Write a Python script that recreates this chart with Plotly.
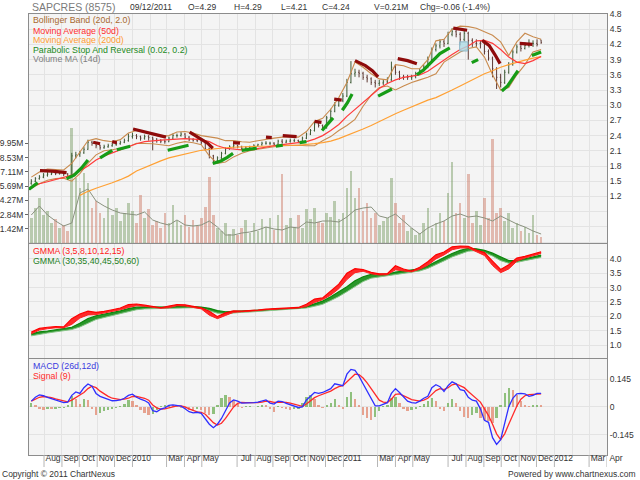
import pandas as pd
import plotly.graph_objects as go

# weekly bars (Fridays) 10 Jul 2009 .. 9 Dec 2011, fortnightly points for smooth indicators
week = pd.date_range("2009-07-10", periods=127, freq="7D")
fortnight = pd.date_range("2009-07-10", periods=64, freq="14D")

opens = [1.46, 1.50, 1.55, 1.58, 1.62, 1.64, 1.66, 1.65, 1.66, 1.64,
         1.60, 2.00, 2.02, 2.06, 2.13, 2.27, 2.25, 2.20, 2.16, 2.18,
         2.20, 2.22, 2.24, 2.27, 2.30, 2.38, 2.40, 2.38, 2.35, 2.38,
         2.36, 2.33, 2.30, 2.29, 2.28, 2.35, 2.40, 2.40, 2.43, 2.37,
         2.32, 2.31, 2.30, 2.26, 2.15, 2.00, 1.90, 1.96, 2.05, 2.14,
         2.18, 2.20, 2.18, 2.15, 2.17, 2.18, 2.20, 2.22, 2.25, 2.25,
         2.25, 2.23, 2.29, 2.27, 2.29, 2.30, 2.30, 2.28, 2.35, 2.43,
         2.50, 2.63, 2.60, 2.55, 2.75, 2.88, 3.00, 3.10, 3.18, 3.45,
         3.62, 3.65, 3.63, 3.55, 3.52, 3.45, 3.43, 3.44, 3.46, 3.50,
         3.75, 3.65, 3.56, 3.55, 3.55, 3.56, 3.62, 3.68, 3.75, 3.90,
         4.10, 4.17, 4.25, 4.22, 4.40, 4.45, 4.40, 4.30, 4.42, 4.28,
         4.22, 4.22, 4.22, 4.06, 3.93, 3.72, 3.55, 3.45, 3.65, 3.80,
         4.05, 4.15, 4.12, 4.18, 4.22, 4.22, 4.29]
highs = [1.54, 1.58, 1.62, 1.66, 1.68, 1.70, 1.69, 1.70, 1.68, 1.66,
         2.06, 2.08, 2.10, 2.18, 2.32, 2.30, 2.27, 2.22, 2.22, 2.24,
         2.26, 2.27, 2.30, 2.34, 2.44, 2.46, 2.43, 2.40, 2.42, 2.41,
         2.38, 2.35, 2.33, 2.32, 2.38, 2.44, 2.44, 2.47, 2.45, 2.39,
         2.35, 2.34, 2.32, 2.27, 2.16, 2.02, 1.99, 2.08, 2.17, 2.21,
         2.24, 2.22, 2.20, 2.19, 2.20, 2.23, 2.24, 2.28, 2.29, 2.28,
         2.27, 2.32, 2.33, 2.32, 2.34, 2.34, 2.32, 2.38, 2.46, 2.53,
         2.68, 2.67, 2.62, 2.79, 2.93, 3.06, 3.14, 3.24, 3.52, 3.87,
         3.72, 3.70, 3.66, 3.60, 3.55, 3.50, 3.50, 3.50, 3.55, 3.86,
         3.80, 3.68, 3.60, 3.60, 3.60, 3.66, 3.72, 3.80, 3.96, 4.14,
         4.22, 4.30, 4.30, 4.45, 4.52, 4.50, 4.44, 4.48, 4.45, 4.32,
         4.30, 4.28, 4.24, 4.10, 3.96, 3.75, 3.62, 3.70, 3.85, 4.10,
         4.20, 4.20, 4.24, 4.30, 4.28, 4.30, 4.29]
lows = [1.43, 1.48, 1.53, 1.56, 1.59, 1.62, 1.62, 1.63, 1.60, 1.55,
        1.58, 1.95, 1.98, 2.04, 2.12, 2.20, 2.15, 2.12, 2.14, 2.16,
        2.18, 2.20, 2.22, 2.25, 2.28, 2.34, 2.33, 2.30, 2.32, 2.30,
        2.11, 2.26, 2.25, 2.24, 2.27, 2.33, 2.36, 2.38, 2.34, 2.29,
        2.28, 2.27, 2.22, 2.10, 1.95, 1.84, 1.88, 1.94, 2.03, 2.12,
        2.15, 2.15, 2.12, 2.13, 2.14, 2.16, 2.18, 2.20, 2.22, 2.21,
        2.19, 2.21, 2.24, 2.25, 2.26, 2.27, 2.25, 2.27, 2.33, 2.41,
        2.48, 2.56, 2.51, 2.54, 2.73, 2.86, 2.97, 3.06, 3.16, 3.43,
        3.56, 3.55, 3.50, 3.45, 3.40, 3.35, 3.38, 3.40, 3.42, 3.48,
        3.60, 3.50, 3.50, 3.50, 3.50, 3.53, 3.60, 3.66, 3.73, 3.88,
        4.06, 4.12, 4.15, 4.20, 4.36, 4.34, 4.18, 4.26, 3.90, 4.15,
        4.15, 4.12, 4.00, 3.88, 3.55, 3.32, 3.35, 3.42, 3.62, 3.78,
        4.02, 4.06, 4.10, 4.14, 4.15, 4.16, 4.21]
closes = [1.50, 1.55, 1.58, 1.62, 1.64, 1.66, 1.65, 1.66, 1.64, 1.58,
          2.00, 2.02, 2.06, 2.13, 2.27, 2.25, 2.20, 2.16, 2.18, 2.20,
          2.22, 2.24, 2.27, 2.30, 2.38, 2.40, 2.38, 2.35, 2.38, 2.36,
          2.33, 2.30, 2.29, 2.28, 2.35, 2.40, 2.40, 2.43, 2.37, 2.32,
          2.31, 2.30, 2.26, 2.15, 2.00, 1.90, 1.96, 2.05, 2.14, 2.18,
          2.20, 2.18, 2.15, 2.17, 2.18, 2.20, 2.22, 2.25, 2.25, 2.25,
          2.23, 2.29, 2.27, 2.29, 2.30, 2.30, 2.28, 2.35, 2.43, 2.50,
          2.63, 2.60, 2.55, 2.75, 2.88, 3.00, 3.10, 3.18, 3.45, 3.62,
          3.65, 3.63, 3.55, 3.52, 3.45, 3.43, 3.44, 3.46, 3.50, 3.75,
          3.65, 3.56, 3.55, 3.55, 3.56, 3.62, 3.68, 3.75, 3.90, 4.10,
          4.17, 4.25, 4.22, 4.40, 4.45, 4.40, 4.30, 4.42, 4.28, 4.22,
          4.22, 4.22, 4.06, 3.93, 3.72, 3.55, 3.45, 3.65, 3.80, 4.05,
          4.15, 4.12, 4.18, 4.22, 4.22, 4.20, 4.24]

# volume in millions of shares
volume_m = [2.5, 3.5, 4.5, 2.8, 3.2, 2.0, 2.4, 1.5, 1.8, 1.2,
            11.5, 6.5, 5.5, 7.0, 6.0, 3.5, 4.2, 3.0, 2.5, 4.5,
            2.8, 3.5, 2.2, 3.0, 4.0, 3.2, 2.0, 4.8, 2.5, 3.4,
            1.8, 2.2, 1.5, 3.0, 2.0, 3.8, 2.2, 1.8, 2.8, 1.6,
            2.3, 1.7, 2.5, 3.6, 6.6, 2.8, 1.5, 1.2, 2.0, 0.9,
            1.4, 0.8, 1.5, 2.3, 1.0, 2.0, 1.2, 2.4, 1.6, 2.5,
            1.3, 2.8, 6.9, 1.8, 2.5, 1.6, 2.8, 1.5, 3.4, 2.4,
            3.5, 2.1, 2.0, 3.0, 2.6, 4.2, 2.4, 3.0, 5.5, 7.2,
            4.5, 5.5, 3.2, 4.0, 2.5, 3.0, 1.8, 2.2, 2.5, 6.5,
            4.0, 2.0, 2.8, 1.2, 1.5, 0.8, 1.0, 2.0, 3.5, 1.5,
            2.0, 3.0, 2.2, 5.0, 8.1, 3.0, 4.0, 2.5, 6.9, 2.0,
            3.2, 1.8, 4.5, 2.5, 10.4, 3.0, 3.5, 2.2, 3.0, 1.5,
            2.0, 1.2, 1.6, 1.0, 2.8, 0.8, 0.6]
volume_ma = [2.8, 3.7, 2.8, 2.2, 1.7, 2.0, 5.0, 5.4, 4.2, 3.7,
             3.3, 3.0, 2.9, 2.8, 3.1, 2.3, 2.0, 1.8, 2.3, 1.8,
             1.7, 1.8, 2.2, 1.6, 0.8, 0.8, 1.0, 1.1, 1.3, 1.6,
             1.4, 1.3, 1.6, 1.5, 2.1, 2.0, 2.2, 2.2, 2.1, 2.6,
             3.3, 3.5, 3.6, 2.7, 2.5, 2.9, 2.2, 1.5, 0.9, 1.5,
             1.9, 2.2, 2.7, 2.9, 2.6, 2.7, 2.5, 2.2, 2.7, 2.3,
             1.9, 1.6, 1.2, 0.9]

bb_upper = [1.58, 1.68, 1.74, 1.73, 1.72, 1.85, 2.08, 2.30, 2.34, 2.30,
            2.28, 2.32, 2.45, 2.50, 2.46, 2.42, 2.38, 2.40, 2.47, 2.48,
            2.45, 2.40, 2.38, 2.35, 2.30, 2.30, 2.28, 2.27, 2.30, 2.33,
            2.35, 2.37, 2.38, 2.37, 2.48, 2.68, 2.74, 2.92, 3.15, 3.45,
            3.85, 3.75, 3.62, 3.52, 3.50, 3.80, 3.78, 3.72, 3.72, 3.90,
            4.27, 4.30, 4.50, 4.56, 4.55, 4.52, 4.45, 4.38, 4.25, 3.98,
            4.25, 4.42, 4.35, 4.30]
bb_lower = [1.36, 1.45, 1.52, 1.55, 1.56, 1.50, 1.65, 1.85, 2.02, 2.10,
            2.12, 2.15, 2.18, 2.25, 2.25, 2.24, 2.22, 2.20, 2.25, 2.28,
            2.26, 2.22, 2.00, 1.85, 1.88, 1.98, 2.05, 2.10, 2.13, 2.16,
            2.18, 2.20, 2.21, 2.21, 2.20, 2.20, 2.30, 2.38, 2.50, 2.60,
            2.72, 2.98, 3.20, 3.35, 3.38, 3.30, 3.38, 3.45, 3.50, 3.55,
            3.62, 3.85, 3.95, 4.05, 4.12, 4.15, 3.95, 3.60, 3.30, 3.35,
            3.60, 3.80, 4.05, 4.10]
ma50 = [1.39, 1.45, 1.49, 1.53, 1.57, 1.62, 1.70, 1.80, 1.92, 2.00,
        2.06, 2.12, 2.18, 2.24, 2.28, 2.30, 2.31, 2.32, 2.33, 2.34,
        2.33, 2.32, 2.28, 2.20, 2.15, 2.13, 2.12, 2.12, 2.15, 2.18,
        2.20, 2.22, 2.24, 2.26, 2.28, 2.33, 2.40, 2.50, 2.62, 2.78,
        2.92, 3.05, 3.20, 3.33, 3.43, 3.50, 3.55, 3.57, 3.60, 3.67,
        3.78, 3.90, 4.00, 4.10, 4.17, 4.27, 4.28, 4.22, 4.10, 3.95,
        3.85, 3.82, 3.88, 3.96]
ma200 = [None, None, None, None, None, None, 1.22, 1.30, 1.36, 1.41,
         1.47, 1.53, 1.60, 1.70, 1.77, 1.83, 1.90, 1.96, 2.00, 2.04,
         2.08, 2.11, 2.13, 2.15, 2.16, 2.17, 2.18, 2.18, 2.19, 2.19,
         2.20, 2.20, 2.21, 2.21, 2.22, 2.24, 2.26, 2.29, 2.34, 2.40,
         2.46, 2.53, 2.60, 2.68, 2.76, 2.83, 2.90, 2.97, 3.03, 3.10,
         3.15, 3.22, 3.30, 3.38, 3.46, 3.54, 3.62, 3.68, 3.75, 3.80,
         3.85, 3.89, 3.93, 3.96]

# parabolic SAR runs, None separates the runs
sar_long_dates = ["2009-07-06", "2009-07-21", None,
                  "2009-09-09", "2009-09-22", "2009-10-05", "2009-10-16", None,
                  "2009-11-06", "2009-11-17", "2009-11-27", None,
                  "2009-12-05", "2009-12-17", "2009-12-28", None,
                  "2010-03-03", "2010-03-15", "2010-03-28", "2010-04-08", None,
                  "2010-05-20", "2010-06-03", "2010-06-14", "2010-06-24", None,
                  "2010-07-09", "2010-07-22", "2010-08-04", None,
                  "2010-09-06", "2010-09-18", None,
                  "2010-10-17", "2010-10-29", None,
                  "2010-11-25", "2010-12-05", "2010-12-14", None,
                  "2010-12-30", "2011-01-08", "2011-01-16", None,
                  "2011-03-02", "2011-03-14", "2011-03-26", None,
                  "2011-05-08", "2011-05-20", "2011-06-03", "2011-06-17", "2011-07-04", None,
                  "2011-08-11", "2011-08-22", None,
                  "2011-10-02", "2011-10-12", "2011-10-22", "2011-10-30", None,
                  "2011-11-23", "2011-12-09"]
sar_long_vals = [1.34, 1.47, None,
                 1.55, 1.62, 1.76, 1.92, None,
                 1.96, 2.04, 2.11, None,
                 2.12, 2.15, 2.19, None,
                 2.11, 2.14, 2.18, 2.21, None,
                 1.85, 1.90, 1.97, 2.05, None,
                 2.11, 2.13, 2.15, None,
                 2.19, 2.21, None,
                 2.26, 2.28, None,
                 2.50, 2.62, 2.75, None,
                 2.90, 3.05, 3.22, None,
                 3.18, 3.25, 3.32, None,
                 3.60, 3.70, 3.86, 4.02, 4.13, None,
                 3.84, 3.90, None,
                 3.28, 3.38, 3.55, 3.68, None,
                 3.98, 4.05]
sar_short_dates = ["2009-07-25", "2009-08-15", "2009-09-09", None,
                   "2009-10-25", "2009-11-06", None,
                   "2009-11-27", "2009-12-05", None,
                   "2010-01-02", "2010-01-22", "2010-02-12", "2010-02-28", None,
                   "2010-04-10", "2010-04-25", "2010-05-11", "2010-05-20", None,
                   "2010-06-24", "2010-07-06", None,
                   "2010-08-20", "2010-08-30", None,
                   "2010-09-18", "2010-10-12", None,
                   "2010-11-12", "2010-11-24", None,
                   "2010-12-16", "2010-12-29", None,
                   "2011-01-21", "2011-02-08", "2011-02-20", "2011-03-02", None,
                   "2011-04-05", "2011-04-22", "2011-05-08", None,
                   "2011-07-10", "2011-07-22", "2011-08-03", None,
                   "2011-08-29", "2011-09-10", "2011-09-20", "2011-09-29", None,
                   "2011-11-02", "2011-11-24"]
sar_short_vals = [1.71, 1.70, 1.67, None,
                  2.27, 2.24, None,
                  2.28, 2.26, None,
                  2.53, 2.47, 2.42, 2.37, None,
                  2.47, 2.37, 2.25, 2.15, None,
                  2.26, 2.25, None,
                  2.37, 2.36, None,
                  2.40, 2.38, None,
                  2.68, 2.66, None,
                  3.12, 3.10, None,
                  3.88, 3.78, 3.68, 3.56, None,
                  3.92, 3.88, 3.82, None,
                  4.52, 4.50, 4.48, None,
                  4.28, 4.18, 4.00, 3.82, None,
                  4.22, 4.20]

# GMMA: edges of the short (3..15) and long (30..60) bundles
gmma_short_hi = [1.45, 1.58, 1.62, 1.64, 1.63, 1.92, 2.08, 2.18, 2.14, 2.17,
                 2.23, 2.29, 2.41, 2.43, 2.39, 2.35, 2.30, 2.36, 2.41, 2.40,
                 2.34, 2.30, 2.18, 1.99, 2.12, 2.19, 2.18, 2.19, 2.22, 2.25,
                 2.26, 2.28, 2.30, 2.31, 2.42, 2.60, 2.64, 2.88, 3.12, 3.50,
                 3.66, 3.63, 3.53, 3.48, 3.49, 3.76, 3.65, 3.58, 3.71, 3.90,
                 4.14, 4.24, 4.42, 4.45, 4.44, 4.31, 4.22, 3.92, 3.63, 3.80,
                 4.03, 4.09, 4.18, 4.25]
gmma_short_lo = [1.39, 1.52, 1.57, 1.60, 1.60, 1.72, 1.94, 2.05, 2.06, 2.11,
                 2.17, 2.23, 2.31, 2.37, 2.35, 2.31, 2.28, 2.30, 2.37, 2.36,
                 2.31, 2.26, 2.04, 1.92, 2.03, 2.14, 2.16, 2.17, 2.20, 2.23,
                 2.24, 2.26, 2.28, 2.29, 2.34, 2.48, 2.58, 2.74, 2.96, 3.28,
                 3.52, 3.57, 3.48, 3.44, 3.45, 3.62, 3.58, 3.55, 3.64, 3.78,
                 4.00, 4.14, 4.32, 4.38, 4.38, 4.25, 4.12, 3.77, 3.52, 3.65,
                 3.92, 4.03, 4.12, 4.19]
gmma_long_hi = [1.39, 1.46, 1.49, 1.53, 1.56, 1.62, 1.76, 1.92, 2.02, 2.07,
                2.13, 2.19, 2.27, 2.32, 2.33, 2.32, 2.32, 2.32, 2.34, 2.35,
                2.34, 2.32, 2.28, 2.20, 2.16, 2.17, 2.18, 2.19, 2.21, 2.23,
                2.25, 2.27, 2.28, 2.29, 2.34, 2.44, 2.53, 2.68, 2.84, 3.03,
                3.24, 3.38, 3.46, 3.46, 3.47, 3.54, 3.58, 3.61, 3.65, 3.76,
                3.90, 4.05, 4.19, 4.30, 4.37, 4.35, 4.30, 4.20, 4.06, 3.94,
                3.94, 4.01, 4.07, 4.13]
gmma_long_lo = [1.32, 1.38, 1.42, 1.46, 1.50, 1.54, 1.63, 1.77, 1.89, 1.96,
                2.03, 2.09, 2.16, 2.23, 2.26, 2.27, 2.28, 2.28, 2.30, 2.31,
                2.30, 2.28, 2.20, 2.11, 2.09, 2.12, 2.14, 2.15, 2.17, 2.19,
                2.21, 2.23, 2.24, 2.25, 2.29, 2.35, 2.42, 2.55, 2.69, 2.86,
                3.05, 3.21, 3.33, 3.37, 3.40, 3.45, 3.49, 3.54, 3.58, 3.67,
                3.79, 3.93, 4.07, 4.18, 4.27, 4.29, 4.22, 4.10, 3.94, 3.85,
                3.88, 3.94, 3.99, 4.05]

macd = [0.030, 0.050, 0.062, 0.058, 0.050, 0.042, 0.034, 0.026, 0.022, 0.025,
        0.060, 0.078, 0.070, 0.100, 0.119, 0.108, 0.070, 0.055, 0.048, 0.040,
        0.032, 0.033, 0.036, 0.045, 0.060, 0.066, 0.050, 0.040, 0.033, 0.020,
        -0.020, -0.025, -0.012, -0.005, 0.008, 0.010, 0.006, 0.004, -0.010, -0.025,
        -0.031, -0.028, -0.033, -0.060, -0.090, -0.108, -0.090, -0.060, -0.020, 0.020,
        0.036, 0.030, 0.020, 0.020, 0.021, 0.022, 0.025, 0.030, 0.036, 0.020,
        0.015, 0.030, 0.028, 0.018, 0.012, 0.005, -0.003, 0.000, 0.036, 0.055,
        0.075, 0.070, 0.075, 0.085, 0.095, 0.120, 0.115, 0.110, 0.170, 0.195,
        0.190, 0.160, 0.120, 0.080, 0.045, 0.005, 0.005, 0.015, 0.022, 0.070,
        0.095, 0.075, 0.050, 0.030, 0.022, 0.020, 0.030, 0.045, 0.055, 0.100,
        0.115, 0.105, 0.080, 0.110, 0.130, 0.120, 0.090, 0.085, 0.050, 0.035,
        0.030, -0.010, -0.070, -0.080, -0.160, -0.195, -0.170, -0.080, 0.000, 0.045,
        0.068, 0.070, 0.068, 0.055, 0.060, 0.070, 0.070]
signal = [0.030, 0.040, 0.050, 0.054, 0.052, 0.048, 0.042, 0.036, 0.030, 0.026,
          0.035, 0.050, 0.062, 0.075, 0.095, 0.108, 0.100, 0.082, 0.068, 0.055,
          0.045, 0.040, 0.038, 0.040, 0.045, 0.054, 0.055, 0.050, 0.045, 0.035,
          0.010, -0.005, -0.012, -0.010, -0.004, 0.002, 0.005, 0.005, 0.000, -0.010,
          -0.020, -0.026, -0.028, -0.038, -0.060, -0.082, -0.094, -0.085, -0.060, -0.030,
          0.000, 0.018, 0.024, 0.022, 0.021, 0.021, 0.022, 0.025, 0.030, 0.028,
          0.024, 0.025, 0.026, 0.024, 0.020, 0.014, 0.008, 0.003, 0.015, 0.030,
          0.048, 0.058, 0.065, 0.072, 0.082, 0.095, 0.105, 0.110, 0.130, 0.155,
          0.170, 0.168, 0.150, 0.125, 0.095, 0.060, 0.035, 0.025, 0.023, 0.040,
          0.065, 0.068, 0.060, 0.048, 0.038, 0.032, 0.030, 0.035, 0.045, 0.065,
          0.085, 0.095, 0.090, 0.100, 0.115, 0.120, 0.110, 0.100, 0.080, 0.060,
          0.045, 0.025, -0.010, -0.045, -0.090, -0.140, -0.170, -0.140, -0.090, -0.040,
          0.005, 0.040, 0.058, 0.064, 0.065, 0.067, 0.068]
macd_hist = [0.020, 0.010, -0.012, -0.015, -0.010, -0.012, -0.010, -0.008, -0.006, 0.010,
             0.055, 0.040, 0.015, 0.040, 0.035, -0.010, -0.040, -0.030, -0.020, -0.015,
             -0.010, -0.005, 0.005, 0.015, 0.035, 0.030, 0.010, -0.015, -0.030, -0.040,
             -0.035, -0.015, 0.005, 0.008, 0.012, 0.010, 0.005, -0.005, -0.012, -0.018,
             -0.020, -0.010, -0.015, -0.030, -0.040, -0.035, 0.010, 0.045, 0.060, 0.050,
             0.035, 0.015, -0.005, 0.003, 0.005, 0.002, 0.006, 0.010, 0.008, -0.012,
             -0.025, 0.005, -0.005, -0.012, -0.015, -0.012, -0.010, 0.020, 0.050, 0.060,
             0.040, 0.010, -0.005, 0.010, 0.020, 0.040, 0.010, -0.012, 0.050, 0.080,
             0.040, 0.010, -0.040, -0.060, -0.070, -0.050, -0.020, 0.005, 0.010, 0.045,
             0.050, 0.020, -0.010, -0.020, -0.015, -0.010, 0.005, 0.015, 0.030, 0.045,
             0.030, -0.010, -0.020, 0.020, 0.040, 0.020, -0.020, -0.050, -0.060, -0.040,
             -0.030, -0.060, -0.070, -0.075, -0.085, -0.060, 0.010, 0.070, 0.100, 0.090,
             0.060, 0.030, 0.012, 0.005, 0.010, 0.012, 0.010]

month_ticks = ["2009-08-01", "2009-09-01", "2009-10-01", "2009-11-01", "2009-12-01",
               "2010-01-01", "2010-03-01", "2010-04-01", "2010-05-01", "2010-07-01",
               "2010-08-01", "2010-09-01", "2010-10-01", "2010-11-01", "2010-12-01",
               "2011-01-01", "2011-03-01", "2011-04-01", "2011-05-01", "2011-07-01",
               "2011-08-01", "2011-09-01", "2011-10-01", "2011-11-01", "2011-12-01",
               "2012-01-01", "2012-03-01", "2012-04-01"]
month_text = ["Aug", "Sep", "Oct", "Nov", "Dec", "2010", "Mar", "Apr", "May", "Jul",
              "Aug", "Sep", "Oct", "Nov", "Dec", "2011", "Mar", "Apr", "May", "Jul",
              "Aug", "Sep", "Oct", "Nov", "Dec", "2012", "Mar", "Apr"]
price_ticks = [0.3, 0.6, 0.9, 1.2, 1.5, 1.8, 2.1, 2.4, 2.7, 3.0, 3.3, 3.6, 3.9, 4.2, 4.5, 4.8]
price_text = ["", "", "", "1.2", "1.5", "1.8", "2.1", "2.4", "2.7", "3.0", "3.3",
              "3.6", "3.9", "4.2", "4.5", "4.8"]
vol_ticks = [1.42, 2.84, 4.27, 5.69, 7.11, 8.53, 9.95]
gmma_ticks = [1.0, 1.5, 2.0, 2.5, 3.0, 3.5, 4.0]
macd_ticks = [-0.145, 0, 0.145]

FONT = "Liberation Sans, Arial, sans-serif"
GRID = "#e3e3e3"
FRAME = "#8c8c8c"
DAY = 86400000


def at(px, py):
    # pixel position in the 640x480 picture -> paper coordinates
    return (px - 29) / 578, (455 - py) / 441


fig = go.Figure()

# volume under the price panel (base axis, left scale)
vol_colors = ["rgba(125,160,105,0.5)" if c >= o else "rgba(205,125,105,0.5)"
              for o, c in zip(opens, closes)]
fig.add_bar(x=week, y=volume_m, width=4.5 * DAY, marker=dict(color=vol_colors, line_width=0),
            xaxis="x", yaxis="y")
fig.add_scatter(x=fortnight, y=volume_ma, mode="lines", line=dict(color="#8a927f", width=1),
                xaxis="x", yaxis="y")

# price panel (overlaid, right scale)
for band in (bb_upper, bb_lower):
    fig.add_scatter(x=fortnight, y=band, mode="lines", line=dict(color="#c98b4e", width=1.1),
                    xaxis="x", yaxis="y2")
fig.add_scatter(x=fortnight, y=ma200, mode="lines", line=dict(color="#ffa033", width=1.2),
                xaxis="x", yaxis="y2")
fig.add_scatter(x=fortnight, y=ma50, mode="lines", line=dict(color="#ff3b3b", width=1.2),
                xaxis="x", yaxis="y2")
fig.add_scatter(x=sar_long_dates, y=sar_long_vals, mode="lines", connectgaps=False,
                line=dict(color="#169c16", width=3.2), xaxis="x", yaxis="y2")
fig.add_scatter(x=sar_short_dates, y=sar_short_vals, mode="lines", connectgaps=False,
                line=dict(color="#8e0b0b", width=3.2), xaxis="x", yaxis="y2")
fig.add_trace(go.Ohlc(x=week, open=opens, high=highs, low=lows, close=closes,
                      increasing_line_color="#3e5a36", decreasing_line_color="#5e3a34",
                      line_width=1, tickwidth=0.2, xaxis="x", yaxis="y2"))

# GMMA panel
fig.add_scatter(x=fortnight, y=gmma_long_lo, mode="lines", line=dict(color="#86c486", width=1),
                xaxis="x2", yaxis="y3")
fig.add_scatter(x=fortnight, y=gmma_long_hi, mode="lines", line=dict(color="#0a850a", width=1.2),
                fill="tonexty", fillcolor="rgba(20,140,20,0.9)", xaxis="x2", yaxis="y3")
fig.add_scatter(x=fortnight, y=gmma_short_lo, mode="lines", line=dict(color="#ff2020", width=1),
                xaxis="x2", yaxis="y3")
fig.add_scatter(x=fortnight, y=gmma_short_hi, mode="lines", line=dict(color="#ff0000", width=1.2),
                fill="tonexty", fillcolor="rgba(255,20,20,0.9)", xaxis="x2", yaxis="y3")

# MACD panel
hist_colors = ["rgba(110,175,85,0.75)" if i == 0 or v >= macd_hist[i - 1] else "rgba(225,135,110,0.75)"
               for i, v in enumerate(macd_hist)]
fig.add_bar(x=week, y=macd_hist, width=4 * DAY, marker=dict(color=hist_colors, line_width=0),
            xaxis="x3", yaxis="y4")
fig.add_scatter(x=week, y=signal, mode="lines", line=dict(color="#ff2a2a", width=1.3),
                xaxis="x3", yaxis="y4")
fig.add_scatter(x=week, y=macd, mode="lines", line=dict(color="#2f2fff", width=1.3),
                xaxis="x3", yaxis="y4")

xcommon = dict(range=["2009-07-06", "2012-04-01"], tickvals=month_ticks, showgrid=True,
               gridcolor=GRID, gridwidth=1, zeroline=False, showline=True, mirror=True,
               linecolor=FRAME, linewidth=1, automargin=False,
               minor=dict(dtick="M1", tick0="2009-08-01", showgrid=True, gridcolor=GRID, ticks=""))
ycommon = dict(showgrid=True, gridcolor=GRID, zeroline=False, showline=True, mirror=True,
               linecolor=FRAME, linewidth=1, side="right", ticks="", automargin=False,
               tickfont=dict(size=8.5, color="#333333", family=FONT))

fig.update_layout(
    width=640, height=480,
    margin=dict(l=29, r=33, t=14, b=25, autoexpand=False),
    paper_bgcolor="white", plot_bgcolor="#f4f4f4",
    showlegend=False, bargap=0, barmode="overlay",
    font=dict(family=FONT, size=8.5, color="#333333"),
    xaxis=dict(xcommon, anchor="y", showticklabels=False, ticks="",
               rangeslider=dict(visible=False)),
    yaxis=dict(domain=[0.4807, 1], range=[0, 22.9], side="left", showgrid=False,
               zeroline=False, showline=True, linecolor=FRAME, mirror=True, automargin=False,
               tickvals=vol_ticks, ticktext=[f"{v:.2f}M" for v in vol_ticks],
               ticks="outside", ticklen=3, tickcolor="#666666",
               tickfont=dict(size=8.5, color="#333333", family=FONT)),
    yaxis2=dict(ycommon, overlaying="y", range=[0.28, 4.8],
                tickvals=price_ticks, ticktext=price_text),
    xaxis2=dict(xcommon, anchor="y3", matches="x", showticklabels=False, ticks=""),
    yaxis3=dict(ycommon, domain=[0.2200, 0.4785], range=[0.55, 4.52],
                tickvals=gmma_ticks, ticktext=[f"{v:.1f}" for v in gmma_ticks]),
    xaxis3=dict(xcommon, anchor="y4", matches="x", ticktext=month_text, ticks="",
                tickangle=0, ticklabelshift=9, ticklabelstandoff=-5,
                tickfont=dict(size=8.5, color="#333333", family=FONT)),
    yaxis4=dict(ycommon, domain=[0, 0.2177], range=[-0.25, 0.249],
                tickvals=macd_ticks, ticktext=["-0.145", "0", "0.145"]),
)

# separators between the month labels under the chart
for d in month_ticks:
    fig.add_shape(type="line", xref="x3", yref="paper", x0=d, x1=d, y0=0, y1=-12 / 441,
                  line=dict(color="#b5b5b5", width=1))

# marker box on the price panel
fig.add_shape(type="rect", xref="x", yref="y2", x0="2011-07-21", x1="2011-08-04",
              y0=4.07, y1=4.25, line=dict(color="#8fb8c8", width=1),
              fillcolor="rgba(175,220,230,0.8)")

texts = [
    (30, 7, "SAPCRES (8575)", "#7a7a7a", 10.5),
    (128, 7, "09/12/2011", "#333333", 8.5),
    (186, 7, "O=4.29", "#333333", 8.5),
    (232, 7, "H=4.29", "#333333", 8.5),
    (279, 7, "L=4.21", "#333333", 8.5),
    (320, 7, "C=4.24", "#333333", 8.5),
    (372, 7, "V=0.21M", "#333333", 8.5),
    (418, 7, "Chg=-0.06 (-1.4%)", "#333333", 8.5),
    (31, 20.5, "Bollinger Band (20d, 2.0)", "#a8692f", 8.8),
    (31, 30.5, "Moving Average (50d)", "#ff3030", 8.8),
    (31, 40, "Moving Average (200d)", "#ff9c33", 8.8),
    (31, 49.5, "Parabolic Stop And Reversal (0.02, 0.2)", "#238a23", 8.8),
    (31, 59, "Volume MA (14d)", "#808080", 8.8),
    (31, 251, "GMMA (3,5,8,10,12,15)", "#ff2020", 8.8),
    (31, 260.7, "GMMA (30,35,40,45,50,60)", "#1d7f1d", 8.8),
    (31, 365.7, "MACD (26d,12d)", "#3a3ae0", 8.8),
    (31, 375.7, "Signal (9)", "#ff2a2a", 8.8),
    (0, 474, "Copyright © 2011 ChartNexus", "#333333", 8.5),
]
for px, py, txt, col, size in texts:
    x, y = at(px, py)
    fig.add_annotation(x=x, y=y, xref="paper", yref="paper", text=txt, showarrow=False,
                       xanchor="left", yanchor="middle",
                       font=dict(size=size, color=col, family=FONT))
x, y = at(638, 474)
fig.add_annotation(x=x, y=y, xref="paper", yref="paper", text="Powered by www.chartnexus.com",
                   showarrow=False, xanchor="right", yanchor="middle",
                   font=dict(size=8.5, color="#333333", family=FONT))

# the page's default body margin would push the 640x480 figure out of the window
fig.write_html("out.html", config={"displayModeBar": False},
               post_script="document.body.style.margin='0';document.body.style.overflow='hidden';")
